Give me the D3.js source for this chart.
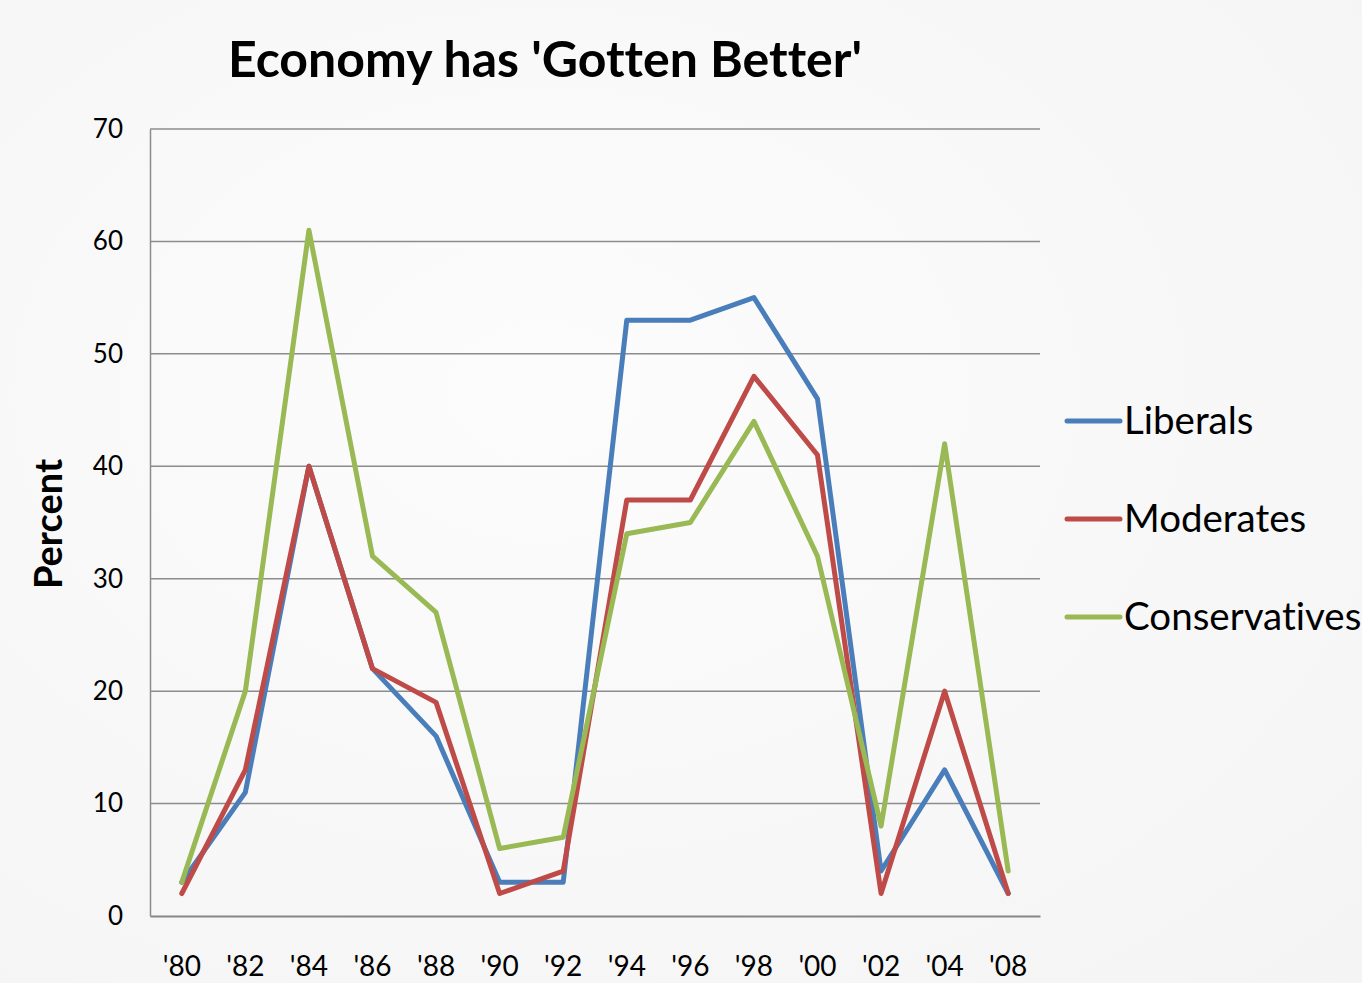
<!DOCTYPE html>
<html>
<head>
<meta charset="utf-8">
<script src="https://cdn.jsdelivr.net/npm/d3@7"></script>
<style>
  body { margin: 0; }
  svg { display: block; }
  text { font-family: Lato, "Open Sans", sans-serif; fill: #000; font-variant-ligatures: none; }
</style>
</head>
<body>
<svg id="chart" width="1362" height="983"></svg>
<script>
const years = ["'80", "'82", "'84", "'86", "'88", "'90", "'92", "'94", "'96", "'98", "'00", "'02", "'04", "'08"];
const liberals = [3, 11, 40, 22, 16, 3, 3, 53, 53, 55, 46, 4, 13, 2];
const moderates = [2, 13, 40, 22, 19, 2, 4, 37, 37, 48, 41, 2, 20, 2];
const conservatives = [3, 20, 61, 32, 27, 6, 7, 34, 35, 44, 32, 8, 42, 4];
const seriesNames = ["Liberals", "Moderates", "Conservatives"];
const seriesColors = ["#4a7ebb", "#be4b48", "#98b954"];
const yTicks = [0, 10, 20, 30, 40, 50, 60, 70];

const svg = d3.select("#chart");

// light gray backdrop
const defs = svg.append("defs");
const grad = defs.append("radialGradient").attr("id", "bg")
  .attr("cx", "40%").attr("cy", "40%").attr("r", "85%");
grad.append("stop").attr("offset", "0%").attr("stop-color", "#fcfcfc");
grad.append("stop").attr("offset", "100%").attr("stop-color", "#f4f4f4");
svg.append("rect").attr("width", 1362).attr("height", 983).attr("fill", "url(#bg)");

const plotLeft = 150, plotRight = 1040, plotTop = 129, plotBottom = 916;

const x = d3.scaleBand().domain(years).range([plotLeft, plotRight]);
const y = d3.scaleLinear().domain([0, 70]).range([plotBottom, plotTop]);

// gridlines
svg.append("g")
  .selectAll("line")
  .data(yTicks.filter(d => d > 0)).enter()
  .append("line")
  .attr("x1", plotLeft).attr("x2", plotRight)
  .attr("y1", d => y(d)).attr("y2", d => y(d))
  .attr("stroke", "#8c8c8c").attr("stroke-width", 1.5);

// y axis
const yAxis = svg.append("g")
  .attr("transform", `translate(${plotLeft},0)`)
  .call(d3.axisLeft(y).tickValues(yTicks).tickSize(0).tickPadding(27));
yAxis.select(".domain").attr("stroke", "#8c8c8c").attr("stroke-width", 1.5);
yAxis.selectAll("text").attr("font-size", 26).attr("font-family", "Lato, sans-serif");

// x axis
const xAxis = svg.append("g")
  .attr("transform", `translate(0,${plotBottom})`)
  .call(d3.axisBottom(x).tickSize(0).tickPadding(40));
xAxis.select(".domain").attr("stroke", "#868686").attr("stroke-width", 2);
xAxis.selectAll("text").attr("font-size", 28).attr("font-family", "Lato, sans-serif");

// lines
const allSeries = [liberals, moderates, conservatives];
const line = d3.line()
  .x((d, i) => x(years[i]) + x.bandwidth() / 2)
  .y(d => y(d));

svg.append("g")
  .selectAll("path")
  .data(allSeries).enter()
  .append("path")
  .attr("d", line)
  .attr("fill", "none")
  .attr("stroke", (d, i) => seriesColors[i])
  .attr("stroke-width", 5)
  .attr("stroke-linejoin", "round")
  .attr("stroke-linecap", "round");

// title
svg.append("text")
  .attr("x", 545).attr("y", 77)
  .attr("text-anchor", "middle")
  .attr("font-size", 50).attr("font-weight", "bold")
  .text("Economy has 'Gotten Better'");

// y label
svg.append("text")
  .attr("transform", "translate(62,524) rotate(-90)")
  .attr("text-anchor", "middle")
  .attr("font-size", 38).attr("font-weight", "bold")
  .text("Percent");

// legend
const legend = svg.append("g")
  .selectAll("g")
  .data(seriesNames).enter()
  .append("g")
  .attr("transform", (d, i) => `translate(1067,${421 + i * 98})`);
legend.append("line")
  .attr("x1", 0).attr("x2", 53)
  .attr("stroke", (d, i) => seriesColors[i])
  .attr("stroke-width", 5)
  .attr("stroke-linecap", "round");
legend.append("text")
  .attr("x", 57).attr("y", 13)
  .attr("font-size", 38.5)
  .text(d => d);
</script>
</body>
</html>
